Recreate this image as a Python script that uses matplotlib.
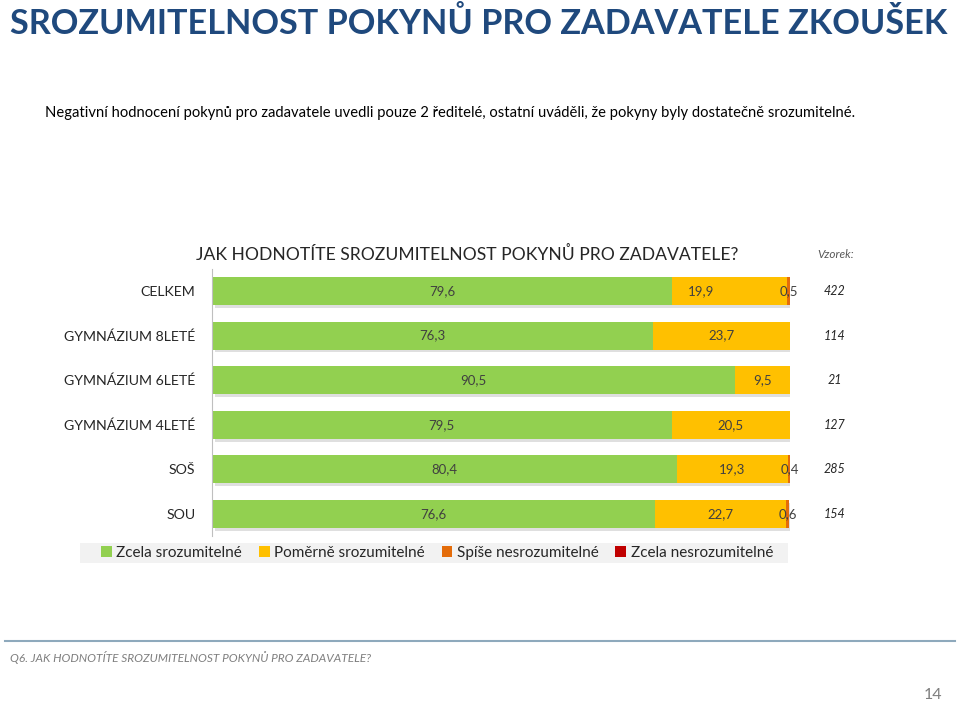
import matplotlib
matplotlib.use("Agg")
import matplotlib.pyplot as plt
import matplotlib.patheffects as pe
from matplotlib.patches import Patch, Rectangle

plt.rcParams['font.family'] = ['Lato', 'DejaVu Sans']

categories = ["CELKEM", "GYMNÁZIUM 8LETÉ", "GYMNÁZIUM 6LETÉ", "GYMNÁZIUM 4LETÉ", "SOŠ", "SOU"]
zcela = [79.6, 76.3, 90.5, 79.5, 80.4, 76.6]
pomerne = [19.9, 23.7, 9.5, 20.5, 19.3, 22.7]
spise_nes = [0.5, 0.0, 0.0, 0.0, 0.4, 0.6]
zcela_nes = [0.0, 0.0, 0.0, 0.0, 0.0, 0.0]
samples = [422, 114, 21, 127, 285, 154]
series_names = ["Zcela srozumitelné", "Poměrně srozumitelné", "Spíše nesrozumitelné", "Zcela nesrozumitelné"]
colors = ["#92D050", "#FFC000", "#E46C0A", "#C00000"]

W, H = 959, 704
fig = plt.figure(figsize=(W / 100, H / 100), dpi=100)
fig.patch.set_facecolor("white")

def fx(x):
    return x / W

def fy(y):
    return 1 - y / H

ax = fig.add_axes([fx(212), fy(536.3), fx(790) - fx(212), fy(268.7) - fy(536.3)])
ypos = list(range(len(categories)))
series = [zcela, pomerne, spise_nes, zcela_nes]
left = [0.0] * len(categories)
shadow = [pe.SimplePatchShadow(offset=(2, -2), alpha=0.25, shadow_rgbFace="#808080"), pe.Normal()]
for vals, col, name in zip(series, colors, series_names):
    bars = ax.barh(ypos, vals, left=left, height=0.63, color=col, label=name, zorder=2)
    for b in bars:
        b.set_path_effects(shadow)
    left = [l + v for l, v in zip(left, vals)]

# value labels
for i in ypos:
    start = 0.0
    for k, vals in enumerate(series):
        v = vals[i]
        if v > 0:
            cx = start + v / 2
            if k == 1 and spise_nes[i] > 0 and i == 0:
                cx -= 5
            ax.text(cx, i, f"{v:.1f}".replace(".", ","), ha="center", va="center",
                    fontsize=9.5, color="#404040", zorder=5)
        start += v

ax.set_xlim(0, 100)
ax.set_ylim(len(categories) - 0.5, -0.5)
ax.set_yticks(ypos)
ax.set_yticklabels(categories, fontsize=10.2, color="#262626")
ax.tick_params(axis="y", length=0, pad=12)
ax.set_xticks([])
for s in ["top", "right", "bottom"]:
    ax.spines[s].set_visible(False)
ax.spines["left"].set_color("#BFBFBF")
ax.spines["left"].set_linewidth(0.8)
ax.patch.set_alpha(0)

# sample sizes
for i, n in zip(ypos, samples):
    ax.text(fx(835 - 212) / (fx(790) - fx(212)), i, str(n), transform=ax.get_yaxis_transform(),
            ha="center", va="center", fontsize=9, style="italic", color="#262626")

# titles
fig.text(fx(10), fy(23), "SROZUMITELNOST POKYNŮ PRO ZADAVATELE ZKOUŠEK", fontsize=24.7,
         fontweight="bold", color="#1F497D", ha="left", va="center")
fig.text(fx(45), fy(113), "Negativní hodnocení pokynů pro zadavatele uvedli pouze 2 ředitelé, ostatní uváděli, že pokyny byly dostatečně srozumitelné.",
         fontsize=10.65, color="#000000", ha="left", va="center")
fig.text(fx(196), fy(254), "JAK HODNOTÍTE SROZUMITELNOST POKYNŮ PRO ZADAVATELE?", fontsize=12.6,
         color="#262626", ha="left", va="center")
fig.text(fx(836), fy(254), "Vzorek:", fontsize=8.5, style="italic", color="#595959", ha="center", va="center")

# legend background + legend
fig.add_artist(Rectangle((fx(80), fy(563)), fx(788) - fx(80), fy(543) - fy(563),
                         transform=fig.transFigure, facecolor="#F2F2F2", edgecolor="none", zorder=0))
handles = [Patch(facecolor=c, edgecolor="none", label=n) for c, n in zip(colors, series_names)]
leg = fig.legend(handles=handles, loc="center", bbox_to_anchor=(fx(437), fy(553)), ncol=4,
                 frameon=False, fontsize=11, handlelength=0.7, handleheight=0.7,
                 handletextpad=0.3, columnspacing=1.1, borderpad=0.2)
for t in leg.get_texts():
    t.set_color("#262626")

# footer
fig.add_artist(plt.Line2D([fx(5), fx(955)], [fy(641), fy(641)], color="#8EA9BC", linewidth=1.5))
fig.text(fx(10), fy(657), "Q6. JAK HODNOTÍTE SROZUMITELNOST POKYNŮ PRO ZADAVATELE?", fontsize=8.6,
         style="italic", color="#7F7F7F", ha="left", va="center")
fig.text(fx(942), fy(695), "14", fontsize=11.5, color="#7F7F7F", ha="right", va="center")

fig.savefig("out.png", dpi=100)
